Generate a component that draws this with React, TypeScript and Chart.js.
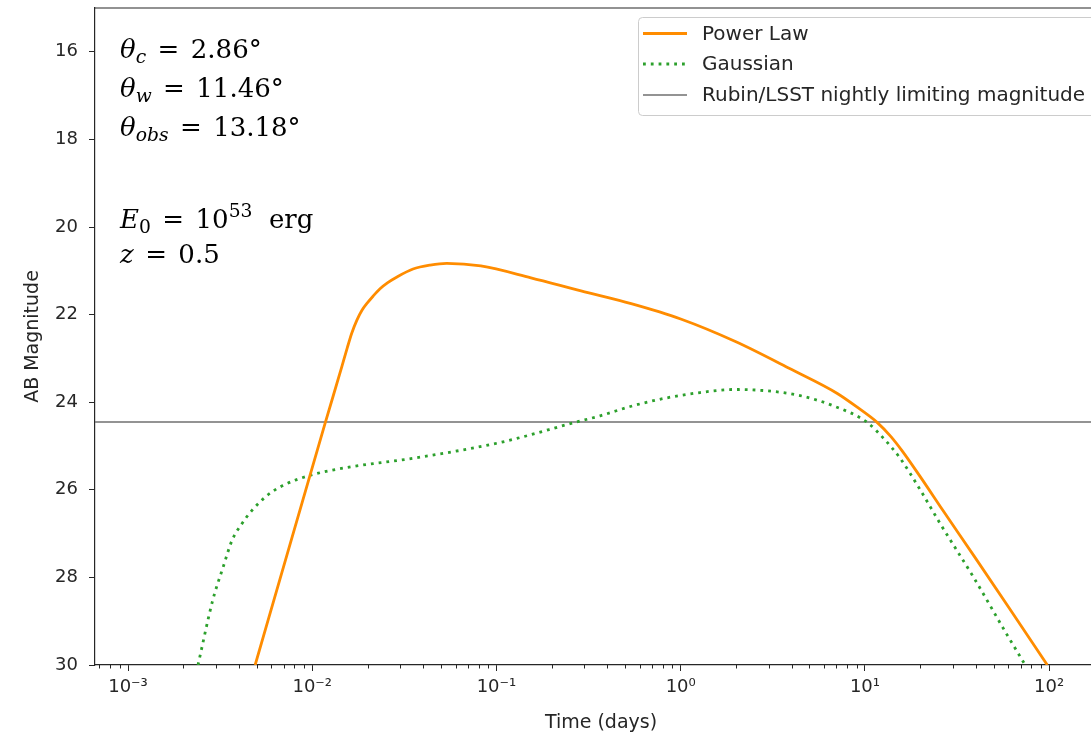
import React, { useEffect, useRef } from 'react';
import { Chart, registerables } from 'chart.js';

Chart.register(...registerables);

// ---- Data ----
const TIME_POWER_LAW = [0.0049, 0.00794, 0.01175, 0.01445, 0.01549, 0.0164, 0.0175, 0.01862, 0.01986, 0.02138, 0.02333, 0.0257, 0.02884, 0.03524, 0.04365, 0.0537, 0.08222, 0.1538, 0.2877, 0.5383, 1.0, 1.995, 3.981, 7.079, 9.12, 11.64, 13.8, 15.85, 19.95, 26.3, 39.81, 60.26, 97.72];
const MAG_POWER_LAW = [30.0, 26.95, 24.48, 23.2, 22.76, 22.42, 22.12, 21.9, 21.74, 21.58, 21.41, 21.27, 21.14, 20.96, 20.87, 20.83, 20.89, 21.16, 21.46, 21.75, 22.1, 22.62, 23.25, 23.8, 24.12, 24.46, 24.78, 25.1, 25.7, 26.45, 27.56, 28.68, 30.0];

const TIME_GAUSSIAN = [0.002399, 0.002884, 0.003281, 0.003673, 0.004159, 0.00471, 0.005689, 0.006934, 0.009727, 0.01545, 0.03524, 0.1047, 0.2673, 0.3656, 0.5521, 0.8433, 1.274, 1.928, 2.944, 4.446, 6.714, 10.28, 12.59, 15.52, 19.95, 25.59, 38.9, 58.88, 74.13];
const MAG_GAUSSIAN = [30.0, 28.52, 27.77, 27.15, 26.77, 26.47, 26.13, 25.9, 25.67, 25.49, 25.28, 24.92, 24.46, 24.31, 24.08, 23.9, 23.78, 23.71, 23.74, 23.85, 24.08, 24.46, 24.82, 25.28, 26.0, 26.77, 28.0, 29.3, 30.0];

const LIMIT_MAG = 24.45;

const SERIES_NAMES = ['Power Law', 'Gaussian', 'Rubin/LSST nightly limiting magnitude'];

const X_MIN = 6.62e-4;
const X_MAX = 206;
const Y_TOP = 15;
const Y_BOTTOM = 30;

const X_MAJOR_TICKS = [1e-3, 1e-2, 1e-1, 1, 10, 100];
const X_TICK_LABELS = ['10⁻³', '10⁻²', '10⁻¹', '10⁰', '10¹', '10²'];
const Y_TICKS = [16, 18, 20, 22, 24, 26, 28, 30];

const X_TITLE = 'Time (days)';
const Y_TITLE = 'AB Magnitude';

const ORANGE = '#ff8c00';
const GREEN = '#2ca02c';
const GREY = '#6f6f6f';
const INK = '#262626';

type Seg = { t: string; italic?: boolean; sub?: boolean; sup?: boolean; gap?: boolean };
const EQ: Seg = { t: '=', gap: true };
const ANNOTATION_LINES: Seg[][] = [
  [{ t: 'θ', italic: true }, { t: 'c', italic: true, sub: true }, EQ, { t: '2.86°' }],
  [{ t: 'θ', italic: true }, { t: 'w', italic: true, sub: true }, EQ, { t: '11.46°' }],
  [{ t: 'θ', italic: true }, { t: 'obs', italic: true, sub: true }, EQ, { t: '13.18°' }],
  [{ t: 'E', italic: true }, { t: '0', sub: true }, EQ, { t: '10' }, { t: '53', sup: true }, { t: '  erg' }],
  [{ t: 'z', italic: true }, EQ, { t: '0.5' }],
];
// baseline offsets from top of plot area
const ANNOTATION_BASELINES = [50, 89, 128, 220, 255];

const MATH_SIZE = 26;

function drawMath(ctx: CanvasRenderingContext2D, x: number, y: number, segs: Seg[]) {
  let cx = x;
  for (const s of segs) {
    const size = s.sub || s.sup ? MATH_SIZE * 0.72 : MATH_SIZE;
    ctx.font = `${s.italic ? 'italic ' : ''}${size}px "DejaVu Serif"`;
    let yy = y;
    if (s.sub) yy = y + MATH_SIZE * 0.2;
    if (s.sup) yy = y - MATH_SIZE * 0.42;
    if (s.gap) cx += MATH_SIZE * 0.44;
    ctx.fillText(s.t, cx, yy);
    cx += ctx.measureText(s.t).width;
    if (s.gap) cx += MATH_SIZE * 0.44;
  }
}

const decorPlugin = {
  id: 'decor',
  afterDraw(chart: any) {
    const { ctx, chartArea: ca, scales } = chart;
    const xs = scales.x;
    ctx.save();
    // minor ticks on x
    ctx.strokeStyle = INK;
    ctx.lineWidth = 1;
    for (let e = -4; e <= 2; e++) {
      for (let k = 2; k <= 9; k++) {
        const v = k * Math.pow(10, e);
        if (v < X_MIN || v > X_MAX) continue;
        const px = Math.round(xs.getPixelForValue(v)) + 0.5;
        ctx.beginPath();
        ctx.moveTo(px, ca.bottom);
        ctx.lineTo(px, ca.bottom + 3.5);
        ctx.stroke();
      }
    }
    // top and right spines
    ctx.lineWidth = 1.2;
    ctx.strokeStyle = INK;
    ctx.beginPath();
    ctx.moveTo(ca.left, ca.top);
    ctx.lineTo(ca.right, ca.top);
    ctx.lineTo(ca.right, ca.bottom);
    ctx.stroke();

    // annotation text
    ctx.fillStyle = '#000';
    ctx.textBaseline = 'alphabetic';
    ctx.textAlign = 'left';
    ANNOTATION_LINES.forEach((line, i) => {
      drawMath(ctx, ca.left + 25, ca.top + ANNOTATION_BASELINES[i], line);
    });

    // legend
    const lx = ca.right - 469;
    const ly = ca.top + 9;
    const lw = 480;
    const lh = 98;
    ctx.beginPath();
    (ctx as any).roundRect(lx + 0.5, ly + 0.5, lw, lh, 4);
    ctx.fillStyle = 'rgba(255,255,255,0.8)';
    ctx.fill();
    ctx.strokeStyle = '#cccccc';
    ctx.lineWidth = 1;
    ctx.stroke();

    const rows = [16.5, 47, 78];
    const styles = [
      { color: ORANGE, width: 2.8, dash: [] as number[] },
      { color: GREEN, width: 2.8, dash: [2.8, 5] },
      { color: GREY, width: 1.5, dash: [] as number[] },
    ];
    ctx.font = '20px "DejaVu Sans"';
    ctx.textBaseline = 'middle';
    rows.forEach((ry, i) => {
      const y = ly + ry;
      const st = styles[i];
      ctx.beginPath();
      ctx.setLineDash(st.dash);
      ctx.lineCap = 'butt';
      ctx.strokeStyle = st.color;
      ctx.lineWidth = st.width;
      ctx.moveTo(lx + 5, y);
      ctx.lineTo(lx + 49, y);
      ctx.stroke();
      ctx.setLineDash([]);
      ctx.fillStyle = INK;
      ctx.fillText(SERIES_NAMES[i], lx + 64, y + 1);
    });
    ctx.restore();
  },
};

export default function App() {
  const canvasRef = useRef<HTMLCanvasElement | null>(null);

  useEffect(() => {
    const canvas = canvasRef.current;
    if (!canvas) return;
    Chart.defaults.font.family = '"DejaVu Sans"';

    const plData = TIME_POWER_LAW.map((t, i) => ({ x: t, y: MAG_POWER_LAW[i] }));
    const gaData = TIME_GAUSSIAN.map((t, i) => ({ x: t, y: MAG_GAUSSIAN[i] }));
    const limData = [
      { x: X_MIN, y: LIMIT_MAG },
      { x: X_MAX, y: LIMIT_MAG },
    ];

    const chart = new Chart(canvas, {
      type: 'line',
      data: {
        datasets: [
          {
            label: SERIES_NAMES[2],
            data: limData,
            borderColor: GREY,
            borderWidth: 1.5,
            pointRadius: 0,
            tension: 0,
            order: 3,
          },
          {
            label: SERIES_NAMES[1],
            data: gaData,
            borderColor: GREEN,
            borderWidth: 2.8,
            borderDash: [2.8, 5],
            borderCapStyle: 'butt',
            pointRadius: 0,
            cubicInterpolationMode: 'monotone',
            order: 2,
          },
          {
            label: SERIES_NAMES[0],
            data: plData,
            borderColor: ORANGE,
            borderWidth: 2.8,
            pointRadius: 0,
            cubicInterpolationMode: 'monotone',
            order: 1,
          },
        ],
      },
      options: {
        animation: false,
        responsive: false,
        maintainAspectRatio: false,
        events: [],
        layout: { padding: { left: 0, top: 8, right: 8, bottom: 0 } },
        plugins: { legend: { display: false }, tooltip: { enabled: false } },
        scales: {
          x: {
            type: 'logarithmic',
            min: X_MIN,
            max: X_MAX,
            bounds: 'data',
            afterBuildTicks: (s: any) => {
              s.ticks = X_MAJOR_TICKS.map((v) => ({ value: v }));
            },
            afterFit: (s: any) => {
              s.height = 70;
              s.paddingLeft = 0;
              s.paddingRight = 0;
            },
            ticks: {
              autoSkip: false,
              maxRotation: 0,
              minRotation: 0,
              padding: 6,
              color: INK,
              font: { size: 18, family: '"DejaVu Sans"' },
              callback: (_v: any, i: number) => X_TICK_LABELS[i],
            },
            grid: { drawOnChartArea: false, drawTicks: true, tickLength: 6, tickColor: INK, tickWidth: 1 },
            border: { display: true, color: INK, width: 1.2 },
            title: {
              display: true,
              text: X_TITLE,
              color: INK,
              font: { size: 19, family: '"DejaVu Sans"' },
              padding: { top: 0, bottom: 1 },
            },
          },
          y: {
            type: 'linear',
            reverse: true,
            min: Y_TOP,
            max: Y_BOTTOM,
            afterBuildTicks: (s: any) => {
              s.ticks = Y_TICKS.map((v) => ({ value: v }));
            },
            afterFit: (s: any) => {
              s.width = 95;
              s.paddingTop = 0;
              s.paddingBottom = 0;
            },
            ticks: {
              padding: 11,
              color: INK,
              font: { size: 18, family: '"DejaVu Sans"' },
              callback: (v: any) => String(v),
            },
            grid: { drawOnChartArea: false, drawTicks: true, tickLength: 6, tickColor: INK, tickWidth: 1 },
            border: { display: true, color: INK, width: 1.2 },
            title: {
              display: true,
              text: Y_TITLE,
              color: INK,
              font: { size: 19, family: '"DejaVu Sans"' },
              padding: { top: 22, bottom: 0 },
            },
          },
        },
      },
      plugins: [decorPlugin],
    } as any);

    return () => chart.destroy();
  }, []);

  return (
    <div style={{ position: 'absolute', left: 0, top: 0, width: 1091, height: 735, overflow: 'hidden', background: '#fff' }}>
      <canvas ref={canvasRef} width={1115} height={735} style={{ display: 'block', width: 1115, height: 735 }} />
    </div>
  );
}
